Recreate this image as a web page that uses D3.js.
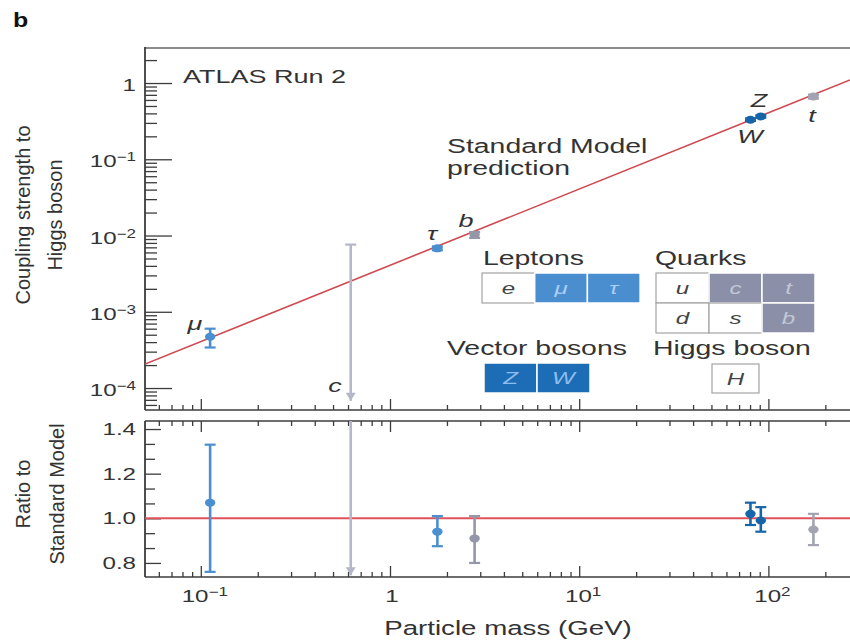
<!DOCTYPE html>
<html>
<head>
<meta charset="utf-8">
<script src="https://cdn.jsdelivr.net/npm/d3@7"></script>
<style>
  html, body { margin: 0; padding: 0; background: #fff; }
  svg { display: block; }
  text { font-family: "Liberation Sans", Arial, Helvetica, sans-serif; }
</style>
</head>
<body>
<svg id="chart" width="850" height="641"></svg>
<script>
// ---- Measured couplings and ratios (ATLAS Run 2) ----
const particles  = ["μ", "τ", "c", "b", "W", "Z", "t"];
const families   = ["lepton", "lepton", "quarkC", "quark", "boson", "boson", "quarkT"];
const masses     = [0.112, 1.78, 0.62, 2.8, 80.4, 91.2, 173];     // GeV
const coupling   = [4.7e-4, 6.8e-3, null, 1.02e-2, 0.330, 0.365, 0.665];
const couplingLo = [3.4e-4, 6.4e-3, 6.8e-5, 0.93e-2, 0.318, 0.352, 0.625];
const couplingHi = [6.0e-4, 7.2e-3, 7.6e-3, 1.11e-2, 0.343, 0.378, 0.705];
const ratio      = [1.07, 0.94, null, 0.91, 1.02, 0.99, 0.95];
const ratioLo    = [0.76, 0.875, 0.745, 0.80, 0.97, 0.94, 0.88];
const ratioHi    = [1.33, 1.01, 3.0, 1.01, 1.07, 1.05, 1.02];

// Standard Model prediction line (end points)
const smMass     = [0.0507, 270];
const smCoupling = [2.06e-4, 1.10];

// Axis ticks and labels
const xMajor       = [0.1, 1, 10, 100];
const xMajorLabels = [["10", "−1"], ["1", ""], ["10", "1"], ["10", "2"]];
const yMajor       = [1e-4, 1e-3, 1e-2, 1e-1, 1];
const yMajorLabels = [["10", "−4"], ["10", "−3"], ["10", "−2"], ["10", "−1"], ["1", ""]];
const rMajor       = [0.8, 1.0, 1.2, 1.4];
const rMajorLabels = ["0.8", "1.0", "1.2", "1.4"];

// Legend
const leptonCells = ["e", "μ", "τ"];
const quarkCells  = [["u", "c", "t"], ["d", "s", "b"]];
const bosonCells  = ["Z", "W"];
const higgsCells  = ["H"];
const measured    = new Set(["μ", "τ", "c", "t", "b", "Z", "W"]);

// ---- Styles ----
const SX = 1.42;                 // horizontal text stretch
const INK = "#333333";
const AXIS = "#3c3c3c";
const RED = "#cf4a50";
const colors = {
  lepton: "#4a8fd0", boson: "#1565a8", quark: "#9597a8",
  quarkT: "#a2a4b2", quarkC: "#b3b7c9"
};
const cellStyle = {
  lepton: { fill: "#4b8ed0", text: "#a8cff4" },
  boson:  { fill: "#1c6db5", text: "#8dbdee" },
  quark:  { fill: "#8b90a8", text: "#c3c7d6" },
  none:   { fill: "#ffffff", text: "#444444" }
};

const svg = d3.select("#chart");

// ---- Scales ----
const L = 145, R = 850;
const topPanel = { top: 48, bottom: 410 };
const botPanel = { top: 421, bottom: 577 };
const x    = d3.scaleLog().domain([0.0507, 270]).range([L, R]);
const yTop = d3.scaleLog().domain([5.15e-5, 2.88]).range([topPanel.bottom, topPanel.top]);
const yBot = d3.scaleLinear().domain([0.737, 1.436]).range([botPanel.bottom, botPanel.top]);

// ---- Helpers ----
function label(g, px, py, str, o = {}) {
  const t = g.append("text")
    .attr("transform", `translate(${px},${py}) scale(${o.sx ?? SX},1)`)
    .attr("text-anchor", o.anchor || "start")
    .attr("font-size", o.size || 20)
    .attr("font-weight", o.weight || "normal")
    .attr("font-style", o.style || "normal")
    .attr("fill", o.fill || INK)
    .text(str);
  return t;
}
function powLabel(g, px, py, parts, o = {}) {
  const t = g.append("text")
    .attr("transform", `translate(${px},${py}) scale(${SX},1)`)
    .attr("text-anchor", o.anchor || "middle")
    .attr("font-size", o.size || 17)
    .attr("fill", INK);
  t.append("tspan").text(parts[0]);
  if (parts[1]) t.append("tspan").attr("dy", -6).attr("font-size", 12).text(parts[1]);
  return t;
}
const isDecade = v => Math.abs(Math.log10(v) - Math.round(Math.log10(v))) < 1e-6;
const xMinor = x.ticks().filter(v => !isDecade(v));
const yMinor = yTop.ticks().filter(v => !isDecade(v));
const rMinor = d3.range(-1, 11).map(k => 0.8 + k * 0.2 / 3)
  .filter(v => v > 0.737 && v < 1.436 && !rMajor.some(m => Math.abs(m - v) < 1e-6));

function tickAxis(g, axis) {
  g.call(axis);
  g.select(".domain").remove();
  g.selectAll(".tick line").attr("stroke", AXIS).attr("stroke-width", 1.3);
}

// ---- Clip paths ----
const defs = svg.append("defs");
defs.append("clipPath").attr("id", "clipTop").append("rect")
  .attr("x", L).attr("y", topPanel.top).attr("width", R - L).attr("height", topPanel.bottom - topPanel.top);
defs.append("clipPath").attr("id", "clipBot").append("rect")
  .attr("x", L).attr("y", botPanel.top).attr("width", R - L).attr("height", botPanel.bottom - botPanel.top);

// ---- Axes: top panel ----
tickAxis(svg.append("g").attr("transform", `translate(${L},0)`),
  d3.axisRight(yTop).tickValues(yMinor).tickSize(12).tickFormat(""));
tickAxis(svg.append("g").attr("transform", `translate(${L},0)`),
  d3.axisRight(yTop).tickValues(yMajor).tickSize(27).tickFormat(""));
tickAxis(svg.append("g").attr("transform", `translate(0,${topPanel.bottom})`),
  d3.axisBottom(x).tickValues(xMinor).tickSize(-5).tickFormat(""));
tickAxis(svg.append("g").attr("transform", `translate(0,${topPanel.bottom})`),
  d3.axisBottom(x).tickValues(xMajor).tickSize(-11).tickFormat(""));

// ---- Axes: bottom panel ----
tickAxis(svg.append("g").attr("transform", `translate(${L},0)`),
  d3.axisRight(yBot).tickValues(rMinor).tickSize(10).tickFormat(""));
tickAxis(svg.append("g").attr("transform", `translate(${L},0)`),
  d3.axisRight(yBot).tickValues(rMajor).tickSize(16).tickFormat(""));
tickAxis(svg.append("g").attr("transform", `translate(0,${botPanel.top})`),
  d3.axisTop(x).tickValues(xMinor).tickSize(-5).tickFormat(""));
tickAxis(svg.append("g").attr("transform", `translate(0,${botPanel.top})`),
  d3.axisTop(x).tickValues(xMajor).tickSize(-11).tickFormat(""));
tickAxis(svg.append("g").attr("transform", `translate(0,${botPanel.bottom})`),
  d3.axisBottom(x).tickValues(xMinor).tickSize(-5).tickFormat(""));
tickAxis(svg.append("g").attr("transform", `translate(0,${botPanel.bottom})`),
  d3.axisBottom(x).tickValues(xMajor).tickSize(-11).tickFormat(""));

// Frame lines
const frame = svg.append("g").attr("fill", "none");
frame.append("line").attr("x1", L).attr("x2", R).attr("y1", topPanel.top).attr("y2", topPanel.top)
  .attr("stroke", "#8c8c8c").attr("stroke-width", 2);
frame.append("line").attr("x1", L).attr("x2", L).attr("y1", topPanel.top - 1).attr("y2", topPanel.bottom)
  .attr("stroke", AXIS).attr("stroke-width", 1.8);
frame.append("line").attr("x1", L).attr("x2", R).attr("y1", topPanel.bottom).attr("y2", topPanel.bottom)
  .attr("stroke", AXIS).attr("stroke-width", 1.6);
frame.append("line").attr("x1", L).attr("x2", L).attr("y1", botPanel.top).attr("y2", botPanel.bottom)
  .attr("stroke", AXIS).attr("stroke-width", 1.8);
frame.append("line").attr("x1", L).attr("x2", R).attr("y1", botPanel.top).attr("y2", botPanel.top)
  .attr("stroke", AXIS).attr("stroke-width", 1.6);
frame.append("line").attr("x1", L).attr("x2", R).attr("y1", botPanel.bottom).attr("y2", botPanel.bottom)
  .attr("stroke", AXIS).attr("stroke-width", 1.6);

// ---- Tick labels ----
const tl = svg.append("g");
yMajor.forEach((v, i) => powLabel(tl, 136, yTop(v) + 8, yMajorLabels[i], { anchor: "end" }));
rMajor.forEach((v, i) => label(tl, 136, yBot(v) + 6, rMajorLabels[i], { anchor: "end", size: 17 }));
xMajor.forEach((v, i) => powLabel(tl, x(v) + (xMajorLabels[i][1] ? 4 : 2), 602, xMajorLabels[i]));

// ---- Axis titles ----
const titles = svg.append("g").attr("fill", INK).attr("font-size", 20).attr("text-anchor", "middle");
[["Coupling strength to", 30], ["Higgs boson", 62]].forEach(([s, px]) =>
  titles.append("text").attr("transform", `translate(${px},215) rotate(-90)`).text(s));
[["Ratio to", 30], ["Standard Model", 64]].forEach(([s, px]) =>
  titles.append("text").attr("transform", `translate(${px},494) rotate(-90)`).text(s));
label(svg, 508, 635, "Particle mass (GeV)", { anchor: "middle", size: 19.5 });
label(svg, 13, 27, "b", { weight: "bold", size: 20, sx: 1.25, fill: "#111" });

// ---- Top panel content ----
const gTop = svg.append("g").attr("clip-path", "url(#clipTop)");
gTop.append("path")
  .datum(smMass.map((m, i) => [m, smCoupling[i]]))
  .attr("d", d3.line().x(d => x(d[0])).y(d => yTop(d[1])))
  .attr("fill", "none").attr("stroke", RED).attr("stroke-width", 1.6);

label(svg, 183, 83, "ATLAS Run 2", { size: 19 });
label(svg, 447, 153, "Standard Model", { size: 20 });
label(svg, 447, 175, "prediction", { size: 20 });

function drawBar(g, cx, yLo, yHi, yC, color, arrowDown, capTop) {
  g.append("line").attr("x1", cx).attr("x2", cx).attr("y1", yHi).attr("y2", yLo)
    .attr("stroke", color).attr("stroke-width", 2.6);
  const cw = 5.5;
  if (capTop !== false)
    g.append("line").attr("x1", cx - cw).attr("x2", cx + cw).attr("y1", yHi).attr("y2", yHi)
      .attr("stroke", color).attr("stroke-width", 2.2);
  if (arrowDown) {
    g.append("path")
      .attr("d", `M${cx - 5},${yLo - 8} L${cx + 5},${yLo - 8} L${cx},${yLo} Z`)
      .attr("fill", color);
  } else {
    g.append("line").attr("x1", cx - cw).attr("x2", cx + cw).attr("y1", yLo).attr("y2", yLo)
      .attr("stroke", color).attr("stroke-width", 2.2);
  }
  if (yC != null)
    g.append("ellipse").attr("cx", cx).attr("cy", yC).attr("rx", 5.2).attr("ry", 4)
      .attr("fill", color);
}

masses.forEach((m, i) => {
  const col = colors[families[i]];
  drawBar(gTop, x(m), yTop(couplingLo[i]), yTop(couplingHi[i]),
    coupling[i] == null ? null : yTop(coupling[i]), col, coupling[i] == null, true);
});

// Particle labels on the top panel
const pl = svg.append("g");
const labelPos = { "μ": [195, 330], "τ": [432, 240], "b": [466, 227], "c": [335, 392],
                   "Z": [759, 107], "W": [750, 143], "t": [812, 122] };
particles.forEach(p => label(pl, labelPos[p][0], labelPos[p][1], p,
  { anchor: "middle", style: "italic", size: 19 }));

// ---- Bottom panel content ----
const gBot = svg.append("g").attr("clip-path", "url(#clipBot)");
gBot.append("line")
  .attr("x1", L).attr("x2", R).attr("y1", yBot(1)).attr("y2", yBot(1))
  .attr("stroke", "#e0525a").attr("stroke-width", 2);
masses.forEach((m, i) => {
  const col = colors[families[i]];
  drawBar(gBot, x(m), yBot(ratioLo[i]), yBot(ratioHi[i]),
    ratio[i] == null ? null : yBot(ratio[i]), col, ratio[i] == null, ratio[i] != null);
});

// ---- Legend ----
const lg = svg.append("g");
function cell(px, py, w, h, sym, family) {
  const st = measured.has(sym) ? cellStyle[family] : cellStyle.none;
  lg.append("rect").attr("x", px).attr("y", py).attr("width", w).attr("height", h)
    .attr("fill", st.fill)
    .attr("stroke", measured.has(sym) ? "#ffffff" : "#a3a3a3")
    .attr("stroke-width", measured.has(sym) ? 1.5 : 1.2);
  label(lg, px + w / 2, py + h / 2 + 6, sym, { anchor: "middle", style: "italic", size: 17, fill: st.text });
}
label(lg, 483, 265, "Leptons");
leptonCells.forEach((s, i) => cell(482 + i * 52.7, 273, 52.7, 30, s, "lepton"));
label(lg, 655, 265, "Quarks");
quarkCells.forEach((row, r) => row.forEach((s, c) => cell(656 + c * 53, 273 + r * 30, 53, 30, s, "quark")));
label(lg, 447, 355, "Vector bosons");
bosonCells.forEach((s, i) => cell(484 + i * 53, 363, 53, 30, s, "boson"));
label(lg, 653, 355, "Higgs boson");
higgsCells.forEach(s => cell(712, 364, 47, 29, s, "none"));
</script>
</body>
</html>
